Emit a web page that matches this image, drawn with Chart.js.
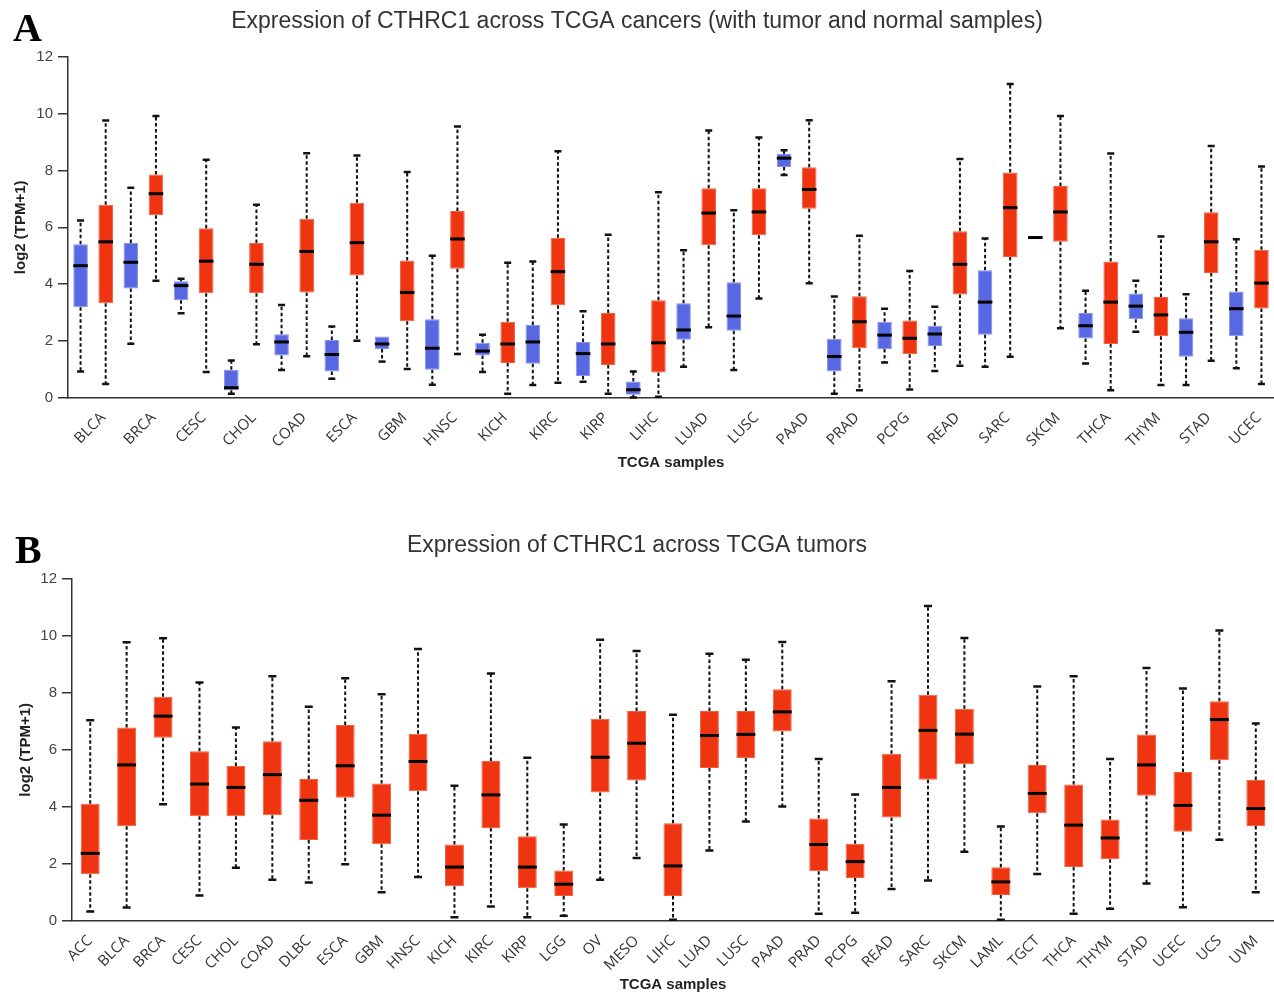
<!DOCTYPE html>
<html>
<head>
<meta charset="utf-8">
<title>CTHRC1 expression across TCGA</title>
<script src="https://cdn.jsdelivr.net/npm/chart.js@4.4.1/dist/chart.umd.min.js"></script>
<style>
    html, body { margin: 0; padding: 0; background: #fff; }
    body { width: 1274px; height: 994px; position: relative; overflow: hidden; }
    canvas { position: absolute; left: 0; }
    .panel-letter {
        position: absolute;
        z-index: 2;
        font-family: 'Liberation Serif', 'Times New Roman', serif;
        font-weight: bold;
        font-size: 40px;
        line-height: 40px;
        color: #000;
    }
</style>
</head>
<body>
<canvas id="chart-a" width="1274" height="480" style="top:0"></canvas>
<canvas id="chart-b" width="1274" height="494" style="top:500px"></canvas>
<div class="panel-letter" style="left:13px; top:8px;">A</div>
<div class="panel-letter" style="left:15px; top:530px;">B</div>
<script>
// each box: [min, q1, median, q3, max] in log2(TPM+1)
const cancersA = ['BLCA', 'BRCA', 'CESC', 'CHOL', 'COAD', 'ESCA', 'GBM', 'HNSC', 'KICH', 'KIRC', 'KIRP', 'LIHC',
    'LUAD', 'LUSC', 'PAAD', 'PRAD', 'PCPG', 'READ', 'SARC', 'SKCM', 'THCA', 'THYM', 'STAD', 'UCEC'];

const normalA = [
    [0.93, 3.19, 4.65, 5.40, 6.24], [1.91, 3.85, 4.77, 5.45, 7.39], [2.98, 3.44, 3.95, 4.10, 4.19],
    [0.15, 0.27, 0.36, 0.99, 1.32], [0.98, 1.49, 1.97, 2.24, 3.27], [0.68, 0.93, 1.53, 2.04, 2.51],
    [1.28, 1.72, 1.90, 2.16, 2.16], [0.47, 0.99, 1.75, 2.77, 5.00], [0.91, 1.49, 1.65, 1.94, 2.22],
    [0.46, 1.20, 1.97, 2.57, 4.80], [0.57, 0.77, 1.56, 1.97, 3.05], [0.02, 0.11, 0.29, 0.58, 0.93],
    [1.10, 2.05, 2.39, 3.33, 5.19], [0.98, 2.36, 2.88, 4.07, 6.60], [7.84, 8.12, 8.43, 8.58, 8.71],
    [0.15, 0.93, 1.46, 2.08, 3.57], [1.25, 1.72, 2.21, 2.68, 3.14], [0.95, 1.83, 2.25, 2.54, 3.21],
    [1.10, 2.22, 3.37, 4.49, 5.61], [5.64, 5.64, 5.64, 5.64, 5.64], [1.21, 2.09, 2.54, 2.99, 3.77],
    [2.33, 2.77, 3.23, 3.67, 4.12], [0.46, 1.45, 2.31, 2.80, 3.65], [1.05, 2.17, 3.14, 3.74, 5.58]
];

const tumorA = [
    [0.49, 3.33, 5.49, 6.79, 9.75], [4.12, 6.42, 7.18, 7.86, 9.91], [0.91, 3.68, 4.81, 5.97, 8.37],
    [1.89, 3.68, 4.70, 5.45, 6.79], [1.47, 3.71, 5.15, 6.30, 8.60], [2.01, 4.31, 5.46, 6.86, 8.52],
    [1.02, 2.70, 3.71, 4.83, 7.94], [1.55, 4.54, 5.59, 6.57, 9.54], [0.15, 1.23, 1.90, 2.68, 4.75],
    [0.54, 3.26, 4.44, 5.63, 8.67], [0.15, 1.16, 1.90, 2.99, 5.74], [0.04, 0.90, 1.94, 3.44, 7.23],
    [2.49, 5.37, 6.50, 7.37, 9.40], [3.50, 5.72, 6.54, 7.37, 9.16], [4.03, 6.65, 7.33, 8.11, 9.76],
    [0.27, 1.75, 2.68, 3.58, 5.70], [0.30, 1.54, 2.10, 2.72, 4.46], [1.13, 3.64, 4.70, 5.86, 8.40],
    [1.45, 4.96, 6.69, 7.93, 11.04], [2.45, 5.49, 6.54, 7.45, 9.91], [0.27, 1.90, 3.37, 4.80, 8.59],
    [0.46, 2.17, 2.92, 3.55, 5.68], [1.31, 4.39, 5.49, 6.53, 8.86], [0.49, 3.15, 4.04, 5.21, 8.14]
];

const cancersB = ['ACC', 'BLCA', 'BRCA', 'CESC', 'CHOL', 'COAD', 'DLBC', 'ESCA', 'GBM', 'HNSC', 'KICH', 'KIRC',
    'KIRP', 'LGG', 'OV', 'MESO', 'LIHC', 'LUAD', 'LUSC', 'PAAD', 'PRAD', 'PCPG', 'READ', 'SARC', 'SKCM',
    'LAML', 'TGCT', 'THCA', 'THYM', 'STAD', 'UCEC', 'UCS', 'UVM'];

const tumorB = [
    [0.33, 1.64, 2.37, 4.11, 7.04], [0.47, 3.32, 5.47, 6.78, 9.77], [4.09, 6.42, 7.18, 7.86, 9.91],
    [0.89, 3.67, 4.80, 5.95, 8.36], [1.87, 3.67, 4.68, 5.43, 6.78], [1.45, 3.71, 5.13, 6.30, 8.58],
    [1.35, 2.84, 4.23, 4.98, 7.51], [1.99, 4.32, 5.44, 6.87, 8.51], [1.01, 2.69, 3.71, 4.82, 7.95],
    [1.54, 4.55, 5.59, 6.56, 9.53], [0.13, 1.22, 1.89, 2.68, 4.74], [0.51, 3.26, 4.42, 5.61, 8.67],
    [0.13, 1.15, 1.89, 2.97, 5.72], [0.18, 0.88, 1.29, 1.77, 3.38], [1.45, 4.50, 5.74, 7.09, 9.86],
    [2.21, 4.92, 6.23, 7.36, 9.46], [0.04, 0.88, 1.93, 3.43, 7.23], [2.47, 5.36, 6.50, 7.36, 9.37],
    [3.49, 5.71, 6.54, 7.36, 9.16], [4.01, 6.64, 7.33, 8.12, 9.78], [0.25, 1.74, 2.68, 3.59, 5.68],
    [0.29, 1.51, 2.08, 2.71, 4.43], [1.12, 3.63, 4.68, 5.86, 8.40], [1.42, 4.95, 6.68, 7.93, 11.04],
    [2.43, 5.49, 6.55, 7.44, 9.92], [0.04, 0.91, 1.37, 1.88, 3.31], [1.65, 3.78, 4.47, 5.47, 8.22],
    [0.25, 1.89, 3.36, 4.78, 8.58], [0.43, 2.16, 2.91, 3.56, 5.68], [1.31, 4.39, 5.47, 6.54, 8.87],
    [0.48, 3.13, 4.05, 5.22, 8.15], [2.85, 5.63, 7.06, 7.70, 10.18], [1.01, 3.33, 3.94, 4.94, 6.92]
];

const yTicks = [0, 2, 4, 6, 8, 10, 12];

const RED = '#ee3411';
const RED_EDGE = '#f2603e';
const BLUE = '#5868e2';
const BLUE_EDGE = '#8594ee';
const AXIS = '#333';

Chart.defaults.font.family = "'Liberation Sans', Arial, sans-serif";
Chart.defaults.animation = false;

// whiskers, caps and median drawn on top of the floating q1..q3 bars
const boxWhiskers = {
    id: 'boxWhiskers',
    afterDatasetsDraw(chart, args, opts) {
        const { ctx } = chart;
        const y = chart.scales.y;
        chart.data.datasets.forEach((ds, di) => {
            chart.getDatasetMeta(di).data.forEach((bar, i) => {
                const [lo, q1, med, q3, hi] = ds.stats[i];
                const x = bar.x;
                const half = bar.width / 2;
                const cap = opts.capWidth / 2;
                ctx.save();
                ctx.strokeStyle = '#111';

                ctx.lineWidth = 2;
                ctx.setLineDash([3.5, 2.5]);
                ctx.beginPath();
                if (hi > q3) {
                    ctx.moveTo(x, y.getPixelForValue(q3));
                    ctx.lineTo(x, y.getPixelForValue(hi));
                }
                if (lo < q1) {
                    ctx.moveTo(x, y.getPixelForValue(q1));
                    ctx.lineTo(x, y.getPixelForValue(lo));
                }
                ctx.stroke();

                ctx.setLineDash([]);
                ctx.lineWidth = 2.5;
                ctx.beginPath();
                if (hi > q3) {
                    ctx.moveTo(x - cap, y.getPixelForValue(hi));
                    ctx.lineTo(x + cap, y.getPixelForValue(hi));
                }
                if (lo < q1) {
                    ctx.moveTo(x - cap, y.getPixelForValue(lo));
                    ctx.lineTo(x + cap, y.getPixelForValue(lo));
                }
                ctx.stroke();

                ctx.strokeStyle = '#000';
                ctx.lineWidth = 3;
                ctx.beginPath();
                ctx.moveTo(x - half, y.getPixelForValue(med));
                ctx.lineTo(x + half, y.getPixelForValue(med));
                ctx.stroke();
                ctx.restore();
            });
        });
    }
};

const boxDataset = (label, stats, fill, edge, barPercentage) => ({
    label,
    data: stats.map(b => [b[1], b[3]]),
    stats,
    backgroundColor: fill,
    borderColor: edge,
    borderWidth: 1,
    borderSkipped: false,
    categoryPercentage: 1,
    barPercentage
});

const makeChart = (canvasId, cfg) => new Chart(document.getElementById(canvasId), {
    type: 'bar',
    data: {
        labels: cfg.labels,
        datasets: cfg.datasets
    },
    plugins: [boxWhiskers],
    options: {
        responsive: false,
        layout: { padding: 0 },
        plugins: {
            legend: { display: false },
            tooltip: { enabled: false },
            title: {
                display: true,
                text: cfg.title,
                color: '#333',
                font: { size: 23, weight: 'normal' },
                padding: cfg.titlePadding
            },
            boxWhiskers: { capWidth: cfg.capWidth }
        },
        scales: {
            x: {
                afterFit: s => { s.height = cfg.xHeight; },
                grid: { display: false },
                border: { display: true, color: AXIS, width: 1.5 },
                ticks: {
                    autoSkip: false,
                    minRotation: 45,
                    maxRotation: 45,
                    padding: 3,
                    labelOffset: cfg.labelOffset,
                    color: '#333',
                    font: { family: "'Open Sans', sans-serif", size: 15 }
                },
                title: {
                    display: true,
                    text: 'TCGA samples',
                    color: '#222',
                    font: { size: 15, weight: 'bold' },
                    padding: { top: 0, bottom: cfg.xTitlePad }
                }
            },
            y: {
                min: 0,
                max: 12,
                afterFit: s => { s.width = cfg.yWidth; },
                afterBuildTicks: s => { s.ticks = yTicks.map(v => ({ value: v })); },
                grid: {
                    display: true,
                    drawOnChartArea: false,
                    drawTicks: true,
                    tickLength: 10,
                    color: AXIS,
                    lineWidth: 1.5
                },
                border: { display: true, color: AXIS, width: 1.5 },
                ticks: {
                    padding: 5,
                    color: '#444',
                    font: { size: 15 }
                },
                title: {
                    display: true,
                    text: 'log2 (TPM+1)',
                    color: '#222',
                    font: { size: 15, weight: 'bold' },
                    padding: { top: cfg.yTitlePad, bottom: 0 }
                }
            }
        }
    }
});

makeChart('chart-a', {
    title: 'Expression of CTHRC1 across TCGA cancers (with tumor and normal samples)',
    labels: cancersA,
    datasets: [
        boxDataset('Normal', normalA, BLUE, BLUE_EDGE, 0.58),
        boxDataset('Tumor', tumorA, RED, RED_EDGE, 0.58)
    ],
    titlePadding: { top: 8, bottom: 21 },
    xHeight: 82,
    yWidth: 68,
    xTitlePad: 8,
    yTitlePad: 12,
    labelOffset: 10,
    capWidth: 7
});

makeChart('chart-b', {
    title: 'Expression of CTHRC1 across TCGA tumors',
    labels: cancersB,
    datasets: [boxDataset('Tumor', tumorB, RED, RED_EDGE, 0.52)],
    titlePadding: { top: 32, bottom: 19 },
    xHeight: 73,
    yWidth: 72,
    xTitlePad: 0,
    yTitlePad: 17,
    labelOffset: 0,
    capWidth: 8
});
</script>
</body>
</html>
